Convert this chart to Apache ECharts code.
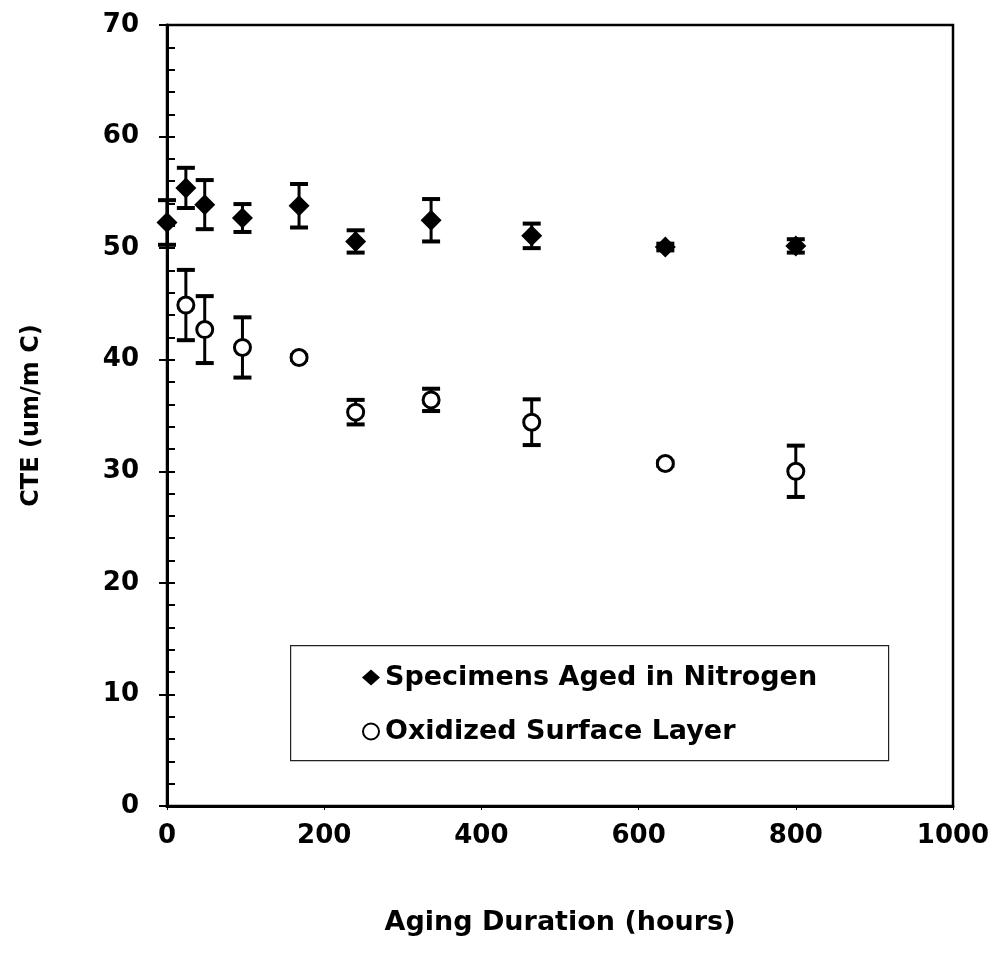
<!DOCTYPE html>
<html>
<head>
<meta charset="utf-8">
<script src="https://cdn.jsdelivr.net/npm/echarts@6/dist/echarts.min.js"></script>
<style>
html,body{margin:0;padding:0;background:#fff;}
#chart{width:995px;height:960px;}
</style>
</head>
<body>
<div id="chart"></div>
<script>
// ---- data ----
const xTicks = [0, 200, 400, 600, 800, 1000];
const yTicks = [0, 10, 20, 30, 40, 50, 60, 70];
const n2Hours = [0, 24, 48, 96, 168, 240, 336, 464, 634, 800];
const n2Mean  = [52.3, 55.4, 53.9, 52.7, 53.8, 50.6, 52.5, 51.1, 50.1, 50.2];
const n2Err   = [2.0, 1.8, 2.2, 1.25, 1.95, 1.0, 1.9, 1.1, 0.3, 0.6];
const oxHours = [24, 48, 96, 168, 240, 336, 464, 634, 800];
const oxMean  = [44.9, 42.7, 41.1, 40.2, 35.3, 36.4, 34.4, 30.7, 30.0];
const oxErr   = [3.15, 3.0, 2.7, 0.2, 1.1, 1.0, 2.05, 0.2, 2.3];
const n2Name = 'Specimens Aged in Nitrogen';
const oxName = 'Oxidized Surface Layer';

const FONT = '"DejaVu Sans", "Liberation Sans", Arial, sans-serif';

const n2Pts = n2Hours.map((h, i) => [h, n2Mean[i]]);
const oxPts = oxHours.map((h, i) => [h, oxMean[i]]);
const n2Bars = n2Hours.map((h, i) => [h, n2Mean[i] - n2Err[i], n2Mean[i] + n2Err[i]]);
const oxBars = oxHours.map((h, i) => [h, oxMean[i] - oxErr[i], oxMean[i] + oxErr[i]]);

function errRender(params, api) {
  const x = api.value(0);
  const lo = api.coord([x, api.value(1)]);
  const hi = api.coord([x, api.value(2)]);
  const hw = 9;
  return {
    type: 'group',
    children: [
      { type: 'line', shape: { x1: lo[0], y1: lo[1], x2: hi[0], y2: hi[1] }, style: { stroke: '#000', lineWidth: 3 } },
      { type: 'line', shape: { x1: lo[0] - hw, y1: lo[1], x2: lo[0] + hw, y2: lo[1] }, style: { stroke: '#000', lineWidth: 4 } },
      { type: 'line', shape: { x1: hi[0] - hw, y1: hi[1], x2: hi[0] + hw, y2: hi[1] }, style: { stroke: '#000', lineWidth: 4 } }
    ]
  };
}

const chart = echarts.init(document.getElementById('chart'), null, { renderer: 'canvas' });
chart.setOption({
  backgroundColor: '#fff',
  animation: false,
  grid: { left: 167, top: 25, right: 42, bottom: 154, show: true, borderColor: '#000', borderWidth: 2.5, backgroundColor: 'transparent' },
  graphic: [{
    type: 'rect', left: 290, top: 645, z: 0,
    shape: { width: 598, height: 115 },
    style: { fill: '#fff', stroke: '#222', lineWidth: 1.2 }
  }],
  legend: {
    data: [n2Name, oxName],
    orient: 'vertical',
    left: 357, top: 659,
    itemGap: 27,
    itemWidth: 18, itemHeight: 16,
    textStyle: { fontFamily: FONT, fontWeight: 'bold', fontSize: 27, color: '#000' },
    z: 10
  },
  xAxis: {
    type: 'value', min: 0, max: 1000, interval: 200,
    name: 'Aging Duration (hours)', nameLocation: 'middle', nameGap: 103,
    nameTextStyle: { fontFamily: FONT, fontWeight: 'bold', fontSize: 27, color: '#000' },
    axisLine: { show: true, lineStyle: { color: '#000', width: 3 } },
    axisTick: { show: true, inside: false, length: 4, lineStyle: { color: '#000', width: 1 } },
    axisLabel: { margin: 17, fontFamily: FONT, fontWeight: 'bold', fontSize: 26, color: '#000',
      formatter: v => xTicks.includes(v) ? String(v) : '' },
    splitLine: { show: false }
  },
  yAxis: [{
    type: 'value', min: 0, max: 70, interval: 10,
    name: 'CTE (um/m C)', nameLocation: 'middle', nameGap: 123, nameRotate: 90,
    nameTextStyle: { fontFamily: FONT, fontWeight: 'bold', fontSize: 24, color: '#000' },
    axisLine: { show: true, lineStyle: { color: '#000', width: 3 } },
    axisTick: { show: true, inside: true, length: 8, lineStyle: { color: '#000', width: 2 } },
    minorTick: { show: true, splitNumber: 5, length: 8, lineStyle: { color: '#000', width: 2 } },
    axisLabel: { margin: 28, fontFamily: FONT, fontWeight: 'bold', fontSize: 26, color: '#000',
      formatter: v => yTicks.includes(v) ? String(v) : '' },
    splitLine: { show: false }
  }, {
    type: 'value', min: 0, max: 70, interval: 10, position: 'left',
    axisLine: { show: false },
    axisTick: { show: true, inside: false, length: 8, lineStyle: { color: '#000', width: 2 } },
    axisLabel: { show: false },
    splitLine: { show: false }
  }],
  series: [
    { type: 'custom', name: 'n2err', data: n2Bars, renderItem: errRender, z: 2, silent: true, encode: { x: 0, y: [1, 2] } },
    { type: 'custom', name: 'oxerr', data: oxBars, renderItem: errRender, z: 2, silent: true, encode: { x: 0, y: [1, 2] } },
    { type: 'scatter', name: n2Name, data: n2Pts, symbol: 'diamond', symbolSize: 21, z: 5,
      itemStyle: { color: '#000', opacity: 1 } },
    { type: 'scatter', name: oxName, data: oxPts, symbol: 'circle', symbolSize: 16, z: 5,
      itemStyle: { color: '#fff', borderColor: '#000', borderWidth: 3, opacity: 1 } }
  ]
});
</script>
</body>
</html>
